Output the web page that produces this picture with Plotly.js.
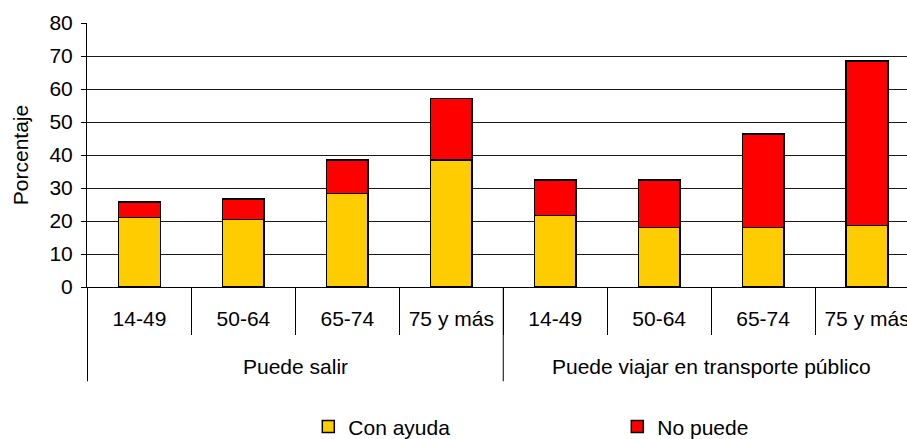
<!DOCTYPE html>
<html>
<head>
<meta charset="utf-8">
<script src="https://cdn.plot.ly/plotly-3.0.1.min.js"></script>
<style>
html,body{margin:0;padding:0;overflow:hidden;background:#fff;}
#chart{width:925px;height:439px;}
</style>
</head>
<body>
<div id="chart"></div>
<script>
var groups = ["Puede salir","Puede salir","Puede salir","Puede salir",
  "Puede viajar en transporte público","Puede viajar en transporte público","Puede viajar en transporte público","Puede viajar en transporte público"];
var ageGroups = ["14-49","50-64","65-74","75 y más","14-49","50-64","65-74","75 y más"];
var conAyuda = [21.0, 20.5, 28.4, 38.5, 21.7, 18.0, 18.0, 18.7];
var noPuede = [4.8, 6.1, 10.1, 18.6, 10.7, 14.4, 28.3, 49.8];
var yTicks = [0,10,20,30,40,50,60,70,80];

var keys = groups.map(function(g, i){ return g + " | " + ageGroups[i]; });

// group extents (category index)
var groupList = [];
groups.forEach(function(g, i){
  var last = groupList[groupList.length - 1];
  if (!last || last.name !== g) groupList.push({name: g, start: i, end: i});
  else last.end = i;
});

var font = {family: "Liberation Sans, Arial, sans-serif", size: 21, color: "#000"};

var annotations = groupList.map(function(gr){
  return {xref: "x", yref: "paper", x: (gr.start + gr.end) / 2, y: -0.30,
    yanchor: "middle", xanchor: "center", showarrow: false, text: gr.name, font: font};
});
var shapes = [];
groupList.forEach(function(gr){
  shapes.push({type: "line", xref: "x", yref: "paper", x0: gr.start - 0.5, x1: gr.start - 0.5,
    y0: 0, y1: -0.357, line: {color: "#000", width: 1}});
});

var traces = [
  {type:"bar", name:"Con ayuda", x:keys, y:conAyuda,
   marker:{color:"#FFCC00", line:{color:"#000", width:1.5}}},
  {type:"bar", name:"No puede", x:keys, y:noPuede,
   marker:{color:"#FF0000", line:{color:"#000", width:1.5}}}
];
var layout = {
  width: 925, height: 439,
  margin: {l: 87, r: 6, t: 23, b: 152, autoexpand: false},
  barmode: "stack", bargap: 0.6,
  paper_bgcolor: "#fff", plot_bgcolor: "#fff",
  font: font,
  showlegend: true,
  legend: {orientation: "h", x: 0.266, xanchor: "left", y: -0.53, yanchor: "middle",
    entrywidth: 264, entrywidthmode: "pixels", font: font, traceorder: "normal"},
  annotations: annotations,
  shapes: shapes,
  xaxis: {type: "category", tickvals: keys, ticktext: ageGroups,
    showline: true, linecolor: "#000", linewidth: 1,
    ticks: "outside", tickson: "boundaries", ticklen: 47, tickcolor: "#000", tickwidth: 1,
    ticklabelstandoff: 13,
    tickfont: font, showgrid: false, fixedrange: true, automargin: false},
  yaxis: {range: [0, 80], tickvals: yTicks, ticktext: yTicks.map(String),
    showgrid: true, gridcolor: "#1a1a1a", gridwidth: 1,
    showline: true, linecolor: "#000", linewidth: 1,
    ticks: "outside", ticklen: 5, tickcolor: "#000",
    ticklabelstandoff: 4,
    tickfont: font, zeroline: false, automargin: false,
    title: {text: "Porcentaje", font: font, standoff: 15}}
};
Plotly.newPlot("chart", traces, layout, {displayModeBar: false, staticPlot: true});
</script>
</body>
</html>
